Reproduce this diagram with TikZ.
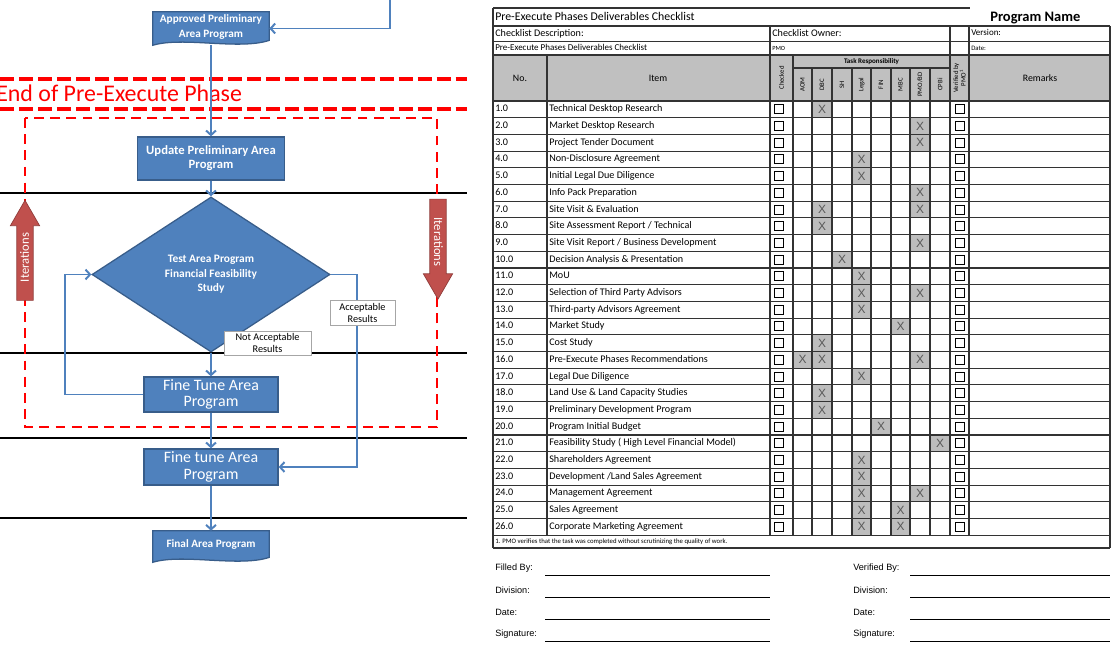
\documentclass[tikz,border=0pt]{standalone}
\usepackage{fontspec}
\setmainfont{Carlito}
\newfontfamily\formfont{Liberation Sans}
\usetikzlibrary{arrows.meta,shapes.geometric,shapes.arrows}
\definecolor{boxblue}{HTML}{4F81BD}
\definecolor{boxedge}{HTML}{385D8A}
\definecolor{iterred}{HTML}{C0504D}
\definecolor{gridgray}{HTML}{333333}
\definecolor{hdrgray}{HTML}{C0C0C0}
\definecolor{xgray}{HTML}{BDBDBD}
\tikzset{
  flowbox/.style={rectangle, fill=boxblue, draw=boxedge, line width=0.9pt, text=white, align=center, inner sep=1pt},
  docbase/.style={rectangle, inner sep=0pt},
  docline/.style={fill=boxblue, draw=boxedge, line width=0.9pt},
  doctxt/.style={text=white, align=center, inner sep=0pt, font=\fontsize{8}{10.6}\selectfont\bfseries},
  decide/.style={diamond, fill=boxblue, draw=boxedge, line width=0.9pt, text=white, align=center, inner sep=0pt, minimum width=5.95cm, minimum height=3.875cm, font=\fontsize{8.1}{10.2}\selectfont\bfseries},
  flowline/.style={draw=boxblue, line width=1.4pt, -{Straight Barb[length=3.2pt,width=7pt]}},
  resultlbl/.style={rectangle, fill=white, draw=black!35, line width=0.6pt, align=center, inner sep=0pt, font=\fontsize{7.3}{8.5}\selectfont},
  lane/.style={black, line width=0.8pt},
  phaseline/.style={red, line width=2.2pt, dash pattern=on 10pt off 3.5pt},
  loopframe/.style={red, line width=1.5pt, dash pattern=on 7pt off 4.5pt},
  phasetxt/.style={anchor=base west, text=red, inner sep=0pt, font=\fontsize{17}{20}\selectfont},
  iterarrow/.style={single arrow, fill=iterred, draw=iterred!75!black, line width=0.5pt, text=white, font=\fontsize{9}{10}\selectfont, minimum height=2.5cm, single arrow head extend=0.16cm, single arrow tip angle=60, inner xsep=2pt, inner ysep=2.2pt, text height=6.2pt, text depth=0.6pt},
  tabline/.style={draw=gridgray, line width=0.8pt},
  tabtxt/.style={anchor=west, inner sep=0pt, text height=5pt, text depth=1.5pt, font=\fontsize{7.2}{8}\selectfont},
  smalltxt/.style={anchor=west, inner sep=0pt, text height=4.4pt, text depth=1.3pt, font=\fontsize{6.4}{7}\selectfont},
  hdrtxt/.style={inner sep=0pt, font=\fontsize{7}{8}\selectfont},
  rothdr/.style={rotate=90, inner sep=0pt, align=center, font=\fontsize{4.8}{5.4}\selectfont},
  chkbox/.style={rectangle, draw=black, line width=0.7pt, minimum size=0.225cm, inner sep=0pt},
  xcell/.style={rectangle, fill=xgray, minimum width=0.475cm, minimum height=0.41cm, inner sep=0pt, text=black!65, font=\formfont\fontsize{8.5}{9}\selectfont},
  signlbl/.style={anchor=west, inner sep=0pt, font=\formfont\fontsize{6.5}{7.5}\selectfont},
  signline/.style={black, line width=0.6pt}
}

\begin{document}
\begin{tikzpicture}[x=0.025cm,y=-0.025cm]
\useasboundingbox (0,0) rectangle (1116,649);
\clip (0,0) rectangle (1116,649);
\fill[white] (0,0) rectangle (1116,649);

% swim lanes
\draw[lane] (0,193) -- (467,193);
\draw[lane] (0,353) -- (467,353);
\draw[lane] (0,438) -- (467,438);
\draw[lane] (0,518) -- (467,518);

% end of phase band
\draw[phaseline] (0,79) -- (467,79);
\draw[phaseline] (0,109) -- (467,109);
\node[phasetxt] (phase) at (-4,102) {End of Pre-Execute Phase};

% iteration frame
\draw[loopframe] (25,118) rectangle (437,427);
\node[iterarrow, rotate=90] (iterup) at (25,257.5) {Iterations};
\node[iterarrow, rotate=-90] (iterdown) at (438,242) {Iterations};

% flow chart
\node[docbase, minimum width=2.9cm, minimum height=0.825cm] (appr) at (211,28.5) {};
\draw[docline] (appr.north west) -- (appr.north east) -- ([yshift=3.5pt]appr.south east) .. controls +(-30,10) and +(30,-9) .. (appr.south west) -- cycle;
\node[doctxt] (apprtxt) at (211,27) {Approved Preliminary\\Area Program};
\node[flowbox, minimum width=3.675cm, minimum height=1.075cm, font=\fontsize{9}{10}\selectfont\bfseries] (upd) at (211,158.5) {Update Preliminary Area\\Program};
\node[decide] (test) at (211,274.5) {Test Area Program\\Financial Feasibility\\Study};
\node[flowbox, minimum width=3.35cm, minimum height=0.875cm, font=\fontsize{11.3}{11.8}\selectfont] (ft1) at (211,394.5) {Fine Tune Area\\Program};
\node[flowbox, minimum width=3.35cm, minimum height=0.9cm, font=\fontsize{11.3}{11.8}\selectfont] (ft2) at (211,467) {Fine tune Area\\Program};
\node[docbase, minimum width=2.9cm, minimum height=0.775cm] (final) at (211,546.5) {};
\draw[docline] (final.north west) -- (final.north east) -- ([yshift=3.5pt]final.south east) .. controls +(-30,10) and +(30,-9) .. (final.south west) -- cycle;
\node[doctxt] (finaltxt) at (211,545) {Final Area Program};

\coordinate (feedin) at (390,0);
\coordinate (retleft) at (65,394.5);
\coordinate (accright) at (357,274.5);
\draw[flowline] (feedin) |- (appr.east);
\draw[flowline] (appr.south) -- (upd.north);
\draw[flowline] (upd.south) -- (test.north);
\draw[flowline] (test.south) -- (ft1.north);
\draw[flowline] (ft1.west) -- (retleft) |- (test.west);
\draw[flowline] (test.east) -- (accright) |- (ft2.east);
\draw[flowline] (ft1.south) -- (ft2.north);
\draw[flowline] (ft2.south) -- (final.north);

\node[resultlbl, minimum width=2.175cm, minimum height=0.6cm] (notacc) at (267.5,343) {Not Acceptable\\Results};
\node[resultlbl, minimum width=1.625cm, minimum height=0.625cm] (acc) at (362.5,312.5) {Acceptable\\Results};

% checklist header
\node[anchor=base west, inner sep=0pt, font=\fontsize{10.3}{12}\selectfont\bfseries] (progname) at (990,22) {Program Name};
\fill[hdrgray] (493,55) rectangle (1110,101);
\draw[tabline] (493,8) -- (970,8);
\draw[tabline] (493,26) -- (1110,26);
\draw[tabline] (493,41.5) -- (1110,41.5);
\draw[tabline] (493,55) -- (1110,55);
\draw[tabline] (793,68) -- (950,68);
\node[anchor=base west, inner sep=0pt, font=\fontsize{8.4}{9}\selectfont] (title) at (495,20.5) {Pre-Execute Phases Deliverables Checklist};
\node[tabtxt] (desc) at (495,33.8) {Checklist Description:};
\node[tabtxt] (owner) at (772,33.8) {Checklist Owner:};
\node[smalltxt] (version) at (971,33.8) {Version:};
\node[smalltxt] (desctxt) at (495,48.2) {Pre-Execute Phases Deliverables Checklist};
\node[smalltxt, font=\fontsize{4.5}{5}\selectfont] (ownertxt) at (772,48.2) {PMO};
\node[smalltxt, font=\fontsize{4.8}{5}\selectfont] (date) at (971,48.2) {Date:};
\node[hdrtxt] (hno) at (520,78) {No.};
\node[hdrtxt] (hitem) at (658,78) {Item};
\node[hdrtxt] (hremarks) at (1040,78) {Remarks};
\node[inner sep=0pt, font=\fontsize{5}{6}\selectfont\bfseries] (htask) at (871.5,61.5) {Task Responsibility};
\node[rothdr] (hchk) at (781.5,78) {Checked};
\node[rothdr] (haom) at (802.5,84.5) {AOM};
\node[rothdr] (hdbc) at (822,84.5) {DBC};
\node[rothdr] (hsh) at (842,84.5) {SH};
\node[rothdr] (hlegal) at (861.5,84.5) {Legal};
\node[rothdr] (hfin) at (881,84.5) {FIN};
\node[rothdr] (hmbc) at (900.5,84.5) {MBC};
\node[rothdr] (hpmo) at (920,84.5) {PMO/BD};
\node[rothdr] (hcpbi) at (940,84.5) {CPBi};
\node[rothdr] (hver) at (959.5,78) {Verified by\\PMO\textsuperscript{1}};

% responsibility marks
\node[xcell] (x1dbc) at (822,109.35) {X};
\node[xcell] (x2pmo) at (920,126.05) {X};
\node[xcell] (x3pmo) at (920,142.75) {X};
\node[xcell] (x4legal) at (861.5,159.45) {X};
\node[xcell] (x5legal) at (861.5,176.15) {X};
\node[xcell] (x6pmo) at (920,192.85) {X};
\node[xcell] (x7dbc) at (822,209.55) {X};
\node[xcell] (x7pmo) at (920,209.55) {X};
\node[xcell] (x8dbc) at (822,226.25) {X};
\node[xcell] (x9pmo) at (920,242.95) {X};
\node[xcell] (x10sh) at (842,259.65) {X};
\node[xcell] (x11legal) at (861.5,276.35) {X};
\node[xcell] (x12legal) at (861.5,293.05) {X};
\node[xcell] (x12pmo) at (920,293.05) {X};
\node[xcell] (x13legal) at (861.5,309.75) {X};
\node[xcell] (x14mbc) at (900.5,326.45) {X};
\node[xcell] (x15dbc) at (822,343.15) {X};
\node[xcell] (x16aom) at (802.5,359.85) {X};
\node[xcell] (x16dbc) at (822,359.85) {X};
\node[xcell] (x16pmo) at (920,359.85) {X};
\node[xcell] (x17legal) at (861.5,376.55) {X};
\node[xcell] (x18dbc) at (822,393.25) {X};
\node[xcell] (x19dbc) at (822,409.95) {X};
\node[xcell] (x20fin) at (881,426.65) {X};
\node[xcell] (x21cpbi) at (940,443.35) {X};
\node[xcell] (x22legal) at (861.5,460.05) {X};
\node[xcell] (x23legal) at (861.5,476.75) {X};
\node[xcell] (x24legal) at (861.5,493.45) {X};
\node[xcell] (x24pmo) at (920,493.45) {X};
\node[xcell] (x25legal) at (861.5,510.15) {X};
\node[xcell] (x25mbc) at (900.5,510.15) {X};
\node[xcell] (x26legal) at (861.5,526.85) {X};
\node[xcell] (x26mbc) at (900.5,526.85) {X};

% grid
\draw[tabline] (493,8) -- (493,548);
\draw[tabline] (1110,26) -- (1110,548);
\draw[tabline] (547,55) -- (547,535.2);
\draw[tabline] (770,26) -- (770,535.2);
\draw[tabline] (793,55) -- (793,535.2);
\draw[tabline] (812,68) -- (812,535.2);
\draw[tabline] (832,68) -- (832,535.2);
\draw[tabline] (852,68) -- (852,535.2);
\draw[tabline] (871,68) -- (871,535.2);
\draw[tabline] (891,68) -- (891,535.2);
\draw[tabline] (910,68) -- (910,535.2);
\draw[tabline] (930,68) -- (930,535.2);
\draw[tabline] (950,26) -- (950,535.2);
\draw[tabline] (969,26) -- (969,535.2);
\draw[tabline] (493,101) -- (1110,101);
\draw[tabline] (493,117.7) -- (1110,117.7);
\draw[tabline] (493,134.4) -- (1110,134.4);
\draw[tabline] (493,151.1) -- (1110,151.1);
\draw[tabline] (493,167.8) -- (1110,167.8);
\draw[tabline] (493,184.5) -- (1110,184.5);
\draw[tabline] (493,201.2) -- (1110,201.2);
\draw[tabline] (493,217.9) -- (1110,217.9);
\draw[tabline] (493,234.6) -- (1110,234.6);
\draw[tabline] (493,251.3) -- (1110,251.3);
\draw[tabline] (493,268) -- (1110,268);
\draw[tabline] (493,284.7) -- (1110,284.7);
\draw[tabline] (493,301.4) -- (1110,301.4);
\draw[tabline] (493,318.1) -- (1110,318.1);
\draw[tabline] (493,334.8) -- (1110,334.8);
\draw[tabline] (493,351.5) -- (1110,351.5);
\draw[tabline] (493,368.2) -- (1110,368.2);
\draw[tabline] (493,384.9) -- (1110,384.9);
\draw[tabline] (493,401.6) -- (1110,401.6);
\draw[tabline] (493,418.3) -- (1110,418.3);
\draw[tabline] (493,435) -- (1110,435);
\draw[tabline] (493,451.7) -- (1110,451.7);
\draw[tabline] (493,468.4) -- (1110,468.4);
\draw[tabline] (493,485.1) -- (1110,485.1);
\draw[tabline] (493,501.8) -- (1110,501.8);
\draw[tabline] (493,518.5) -- (1110,518.5);
\draw[tabline] (493,535.2) -- (1110,535.2);
\draw[tabline] (493,548) -- (1110,548);

% rows
\node[tabtxt] (no1) at (495,109.35) {1.0};
\node[tabtxt] (item1) at (549,109.35) {Technical Desktop Research};
\node[chkbox] (chk1) at (779,109.35) {};
\node[chkbox] (ver1) at (959.5,109.35) {};
\node[tabtxt] (no2) at (495,126.05) {2.0};
\node[tabtxt] (item2) at (549,126.05) {Market Desktop Research};
\node[chkbox] (chk2) at (779,126.05) {};
\node[chkbox] (ver2) at (959.5,126.05) {};
\node[tabtxt] (no3) at (495,142.75) {3.0};
\node[tabtxt] (item3) at (549,142.75) {Project Tender Document};
\node[chkbox] (chk3) at (779,142.75) {};
\node[chkbox] (ver3) at (959.5,142.75) {};
\node[tabtxt] (no4) at (495,159.45) {4.0};
\node[tabtxt] (item4) at (549,159.45) {Non-Disclosure Agreement};
\node[chkbox] (chk4) at (779,159.45) {};
\node[chkbox] (ver4) at (959.5,159.45) {};
\node[tabtxt] (no5) at (495,176.15) {5.0};
\node[tabtxt] (item5) at (549,176.15) {Initial Legal Due Diligence};
\node[chkbox] (chk5) at (779,176.15) {};
\node[chkbox] (ver5) at (959.5,176.15) {};
\node[tabtxt] (no6) at (495,192.85) {6.0};
\node[tabtxt] (item6) at (549,192.85) {Info Pack Preparation};
\node[chkbox] (chk6) at (779,192.85) {};
\node[chkbox] (ver6) at (959.5,192.85) {};
\node[tabtxt] (no7) at (495,209.55) {7.0};
\node[tabtxt] (item7) at (549,209.55) {Site Visit \& Evaluation};
\node[chkbox] (chk7) at (779,209.55) {};
\node[chkbox] (ver7) at (959.5,209.55) {};
\node[tabtxt] (no8) at (495,226.25) {8.0};
\node[tabtxt] (item8) at (549,226.25) {Site Assessment Report / Technical};
\node[chkbox] (chk8) at (779,226.25) {};
\node[chkbox] (ver8) at (959.5,226.25) {};
\node[tabtxt] (no9) at (495,242.95) {9.0};
\node[tabtxt] (item9) at (549,242.95) {Site Visit Report / Business Development};
\node[chkbox] (chk9) at (779,242.95) {};
\node[chkbox] (ver9) at (959.5,242.95) {};
\node[tabtxt] (no10) at (495,259.65) {10.0};
\node[tabtxt] (item10) at (549,259.65) {Decision Analysis \& Presentation};
\node[chkbox] (chk10) at (779,259.65) {};
\node[chkbox] (ver10) at (959.5,259.65) {};
\node[tabtxt] (no11) at (495,276.35) {11.0};
\node[tabtxt] (item11) at (549,276.35) {MoU};
\node[chkbox] (chk11) at (779,276.35) {};
\node[chkbox] (ver11) at (959.5,276.35) {};
\node[tabtxt] (no12) at (495,293.05) {12.0};
\node[tabtxt] (item12) at (549,293.05) {Selection of Third Party Advisors};
\node[chkbox] (chk12) at (779,293.05) {};
\node[chkbox] (ver12) at (959.5,293.05) {};
\node[tabtxt] (no13) at (495,309.75) {13.0};
\node[tabtxt] (item13) at (549,309.75) {Third-party Advisors Agreement};
\node[chkbox] (chk13) at (779,309.75) {};
\node[chkbox] (ver13) at (959.5,309.75) {};
\node[tabtxt] (no14) at (495,326.45) {14.0};
\node[tabtxt] (item14) at (549,326.45) {Market Study};
\node[chkbox] (chk14) at (779,326.45) {};
\node[chkbox] (ver14) at (959.5,326.45) {};
\node[tabtxt] (no15) at (495,343.15) {15.0};
\node[tabtxt] (item15) at (549,343.15) {Cost Study};
\node[chkbox] (chk15) at (779,343.15) {};
\node[chkbox] (ver15) at (959.5,343.15) {};
\node[tabtxt] (no16) at (495,359.85) {16.0};
\node[tabtxt] (item16) at (549,359.85) {Pre-Execute Phases Recommendations};
\node[chkbox] (chk16) at (779,359.85) {};
\node[chkbox] (ver16) at (959.5,359.85) {};
\node[tabtxt] (no17) at (495,376.55) {17.0};
\node[tabtxt] (item17) at (549,376.55) {Legal Due Diligence};
\node[chkbox] (chk17) at (779,376.55) {};
\node[chkbox] (ver17) at (959.5,376.55) {};
\node[tabtxt] (no18) at (495,393.25) {18.0};
\node[tabtxt] (item18) at (549,393.25) {Land Use \& Land Capacity Studies};
\node[chkbox] (chk18) at (779,393.25) {};
\node[chkbox] (ver18) at (959.5,393.25) {};
\node[tabtxt] (no19) at (495,409.95) {19.0};
\node[tabtxt] (item19) at (549,409.95) {Preliminary Development Program};
\node[chkbox] (chk19) at (779,409.95) {};
\node[chkbox] (ver19) at (959.5,409.95) {};
\node[tabtxt] (no20) at (495,426.65) {20.0};
\node[tabtxt] (item20) at (549,426.65) {Program Initial Budget};
\node[chkbox] (chk20) at (779,426.65) {};
\node[chkbox] (ver20) at (959.5,426.65) {};
\node[tabtxt] (no21) at (495,443.35) {21.0};
\node[tabtxt] (item21) at (549,443.35) {Feasibility Study ( High Level Financial Model)};
\node[chkbox] (chk21) at (779,443.35) {};
\node[chkbox] (ver21) at (959.5,443.35) {};
\node[tabtxt] (no22) at (495,460.05) {22.0};
\node[tabtxt] (item22) at (549,460.05) {Shareholders Agreement};
\node[chkbox] (chk22) at (779,460.05) {};
\node[chkbox] (ver22) at (959.5,460.05) {};
\node[tabtxt] (no23) at (495,476.75) {23.0};
\node[tabtxt] (item23) at (549,476.75) {Development /Land Sales Agreement};
\node[chkbox] (chk23) at (779,476.75) {};
\node[chkbox] (ver23) at (959.5,476.75) {};
\node[tabtxt] (no24) at (495,493.45) {24.0};
\node[tabtxt] (item24) at (549,493.45) {Management Agreement};
\node[chkbox] (chk24) at (779,493.45) {};
\node[chkbox] (ver24) at (959.5,493.45) {};
\node[tabtxt] (no25) at (495,510.15) {25.0};
\node[tabtxt] (item25) at (549,510.15) {Sales Agreement};
\node[chkbox] (chk25) at (779,510.15) {};
\node[chkbox] (ver25) at (959.5,510.15) {};
\node[tabtxt] (no26) at (495,526.85) {26.0};
\node[tabtxt] (item26) at (549,526.85) {Corporate Marketing Agreement};
\node[chkbox] (chk26) at (779,526.85) {};
\node[chkbox] (ver26) at (959.5,526.85) {};
\node[anchor=west, inner sep=0pt, font=\fontsize{4.8}{5}\selectfont] (note) at (495,541.6) {1. PMO verifies that the task was completed without scrutinizing the quality of work.};

% sign-off
\node[signlbl] (filled) at (495,568) {Filled By:};
\node[signlbl] (divl) at (495,590) {Division:};
\node[signlbl] (datel) at (495,612) {Date:};
\node[signlbl] (signl) at (495,634) {Signature:};
\draw[signline] (545,575) -- (770,575);
\draw[signline] (545,597) -- (770,597);
\draw[signline] (545,619) -- (770,619);
\draw[signline] (545,641) -- (770,641);
\node[signlbl] (verified) at (853,568) {Verified By:};
\node[signlbl] (divr) at (853,590) {Division:};
\node[signlbl] (dater) at (853,612) {Date:};
\node[signlbl] (signr) at (853,634) {Signature:};
\draw[signline] (910,575) -- (1110,575);
\draw[signline] (910,597) -- (1110,597);
\draw[signline] (910,619) -- (1110,619);
\draw[signline] (910,641) -- (1110,641);
\end{tikzpicture}
\end{document}
